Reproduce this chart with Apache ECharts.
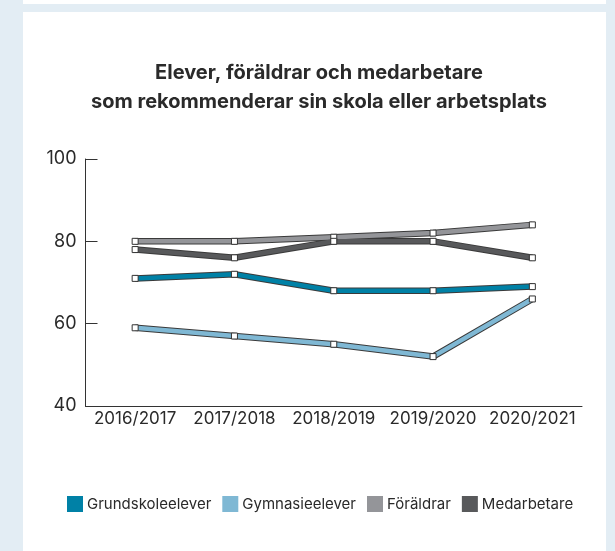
<!DOCTYPE html>
<html>
<head>
<meta charset="utf-8">
<script src="https://cdn.jsdelivr.net/npm/echarts@6/dist/echarts.min.js"></script>
<style>
  html, body { margin: 0; padding: 0; }
  body { width: 615px; height: 551px; background: #e3edf4; position: relative; overflow: hidden; }
  .topstrip { position: absolute; left: 23px; top: 0; width: 583px; height: 4px; background: #fff; }
  .panel { position: absolute; left: 23px; top: 12px; width: 583px; height: 539px; background: #fff; }
  #chart { position: absolute; left: 0; top: 0; width: 615px; height: 551px; }
</style>
</head>
<body>
<div class="topstrip"></div>
<div class="panel"></div>
<div id="chart"></div>
<script>
// läsåren
const categories = ['2016/2017', '2017/2018', '2018/2019', '2019/2020', '2020/2021'];
const grundskoleelever = [71, 72, 68, 68, 69];
const gymnasieelever = [59, 57, 55, 52, 66];
const foraldrar = [80, 80, 81, 82, 84];
const medarbetare = [78, 76, 80, 80, 76];
const yTicks = [40, 60, 80, 100];

const seriesDefs = [
    { name: 'Grundskoleelever', data: grundskoleelever, color: '#0081a6' },
    { name: 'Gymnasieelever', data: gymnasieelever, color: '#7fb8d4' },
    { name: 'Föräldrar', data: foraldrar, color: '#949599' },
    { name: 'Medarbetare', data: medarbetare, color: '#58595b' }
];

var myChart = echarts.init(document.getElementById('chart'), null, { renderer: 'canvas' });

// each line = dark outline + coloured line on top
var series = [];
seriesDefs.forEach(function (s) {
    series.push({
        name: s.name + '_kant',
        type: 'line',
        data: s.data,
        symbol: 'none',
        silent: true,
        lineStyle: { color: '#3a3a3a', width: 6.5, cap: 'butt' },
        z: 2
    });
    series.push({
        name: s.name,
        type: 'line',
        data: s.data,
        symbol: 'rect',
        symbolSize: 6,
        lineStyle: { color: s.color, width: 4.5, cap: 'butt' },
        itemStyle: { color: '#ffffff', borderColor: '#333333', borderWidth: 1 },
        z: 3
    });
});

var option = {
    animation: false,
    title: {
        text: 'Elever, föräldrar och medarbetare\nsom rekommenderar sin skola eller arbetsplats',
        left: 314,
        top: 53,
        textAlign: 'center',
        textStyle: {
            fontFamily: 'Inter',
            fontSize: 20,
            fontWeight: 'bold',
            color: '#2a2a2a',
            lineHeight: 29
        }
    },
    legend: {
        left: 62,
        top: 491,
        icon: 'rect',
        itemWidth: 16,
        itemHeight: 16,
        itemGap: 11,
        textStyle: { fontFamily: 'Inter', fontSize: 15, color: '#2a2a2a', padding: [0, 0, 0, -1] },
        data: seriesDefs.map(function (s) {
            return { name: s.name, itemStyle: { color: s.color, borderWidth: 0 } };
        })
    },
    grid: { left: 85.5, right: 33, top: 159, bottom: 145 },
    xAxis: {
        type: 'category',
        data: categories,
        boundaryGap: true,
        axisLine: { lineStyle: { color: '#333', width: 1 } },
        axisTick: { inside: true, length: 6, lineStyle: { color: '#333' } },
        axisLabel: { interval: 0, fontFamily: 'Inter', fontSize: 17, color: '#2a2a2a', margin: 4 }
    },
    yAxis: {
        type: 'value',
        min: yTicks[0],
        max: yTicks[yTicks.length - 1],
        interval: 20,
        splitLine: { show: false },
        axisLine: { show: true, lineStyle: { color: '#333', width: 1 } },
        axisTick: { show: true, inside: true, length: 12, lineStyle: { color: '#333' } },
        axisLabel: { fontFamily: 'Inter', fontSize: 18, color: '#2a2a2a', margin: 9, padding: [12, 0, 0, 0] }
    },
    series: series
};
myChart.setOption(option);
</script>
</body>
</html>
